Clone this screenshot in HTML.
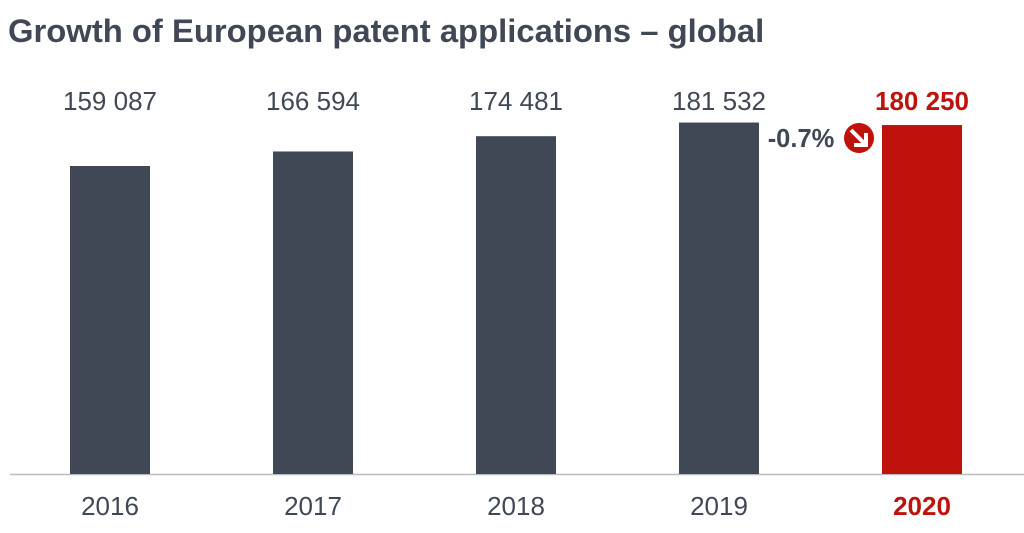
<!DOCTYPE html>
<html><head><meta charset="utf-8"><style>
body{margin:0;background:#fff;width:1024px;height:528px;overflow:hidden;font-family:"Liberation Sans",Arial,sans-serif}
</style></head><body>
<svg width="1024" height="528">
<text x="8" y="42" font-size="32.8" font-weight="bold" fill="#404855">Growth of European patent applications – global</text>
<line x1="10" y1="474.5" x2="1024" y2="474.5" stroke="#b8bcc2" stroke-width="1.5"/>
<g id="bars"></g>
<text x="801" y="147" font-size="25.5" font-weight="bold" fill="#404855" text-anchor="middle">-0.7%</text>
<g>
<circle cx="859" cy="138" r="15" fill="#c0120d"/>
<path d="M851 130 L864 143 M866 133 L866 145 L854 145" stroke="#fff" stroke-width="4" fill="none" stroke-linejoin="miter"/>
</g>
</svg>
<script>
const years=["2016","2017","2018","2019","2020"];
const values=[159087,166594,174481,181532,180250];
const valueLabels=["159 087","166 594","174 481","181 532","180 250"];
const base=474, scale=308/159087;
const g=document.getElementById('bars');
const NS="http://www.w3.org/2000/svg";
years.forEach((y,i)=>{
  const cx=110+i*203, h=values[i]*scale, last=i===years.length-1;
  const col=last?"#c0120d":"#404855";
  const r=document.createElementNS(NS,'rect');
  r.setAttribute('x',cx-40);r.setAttribute('width',80);
  r.setAttribute('y',base-h);r.setAttribute('height',h);r.setAttribute('fill',col);
  
  
  g.appendChild(r);
  const t=document.createElementNS(NS,'text');
  t.setAttribute('x',cx);t.setAttribute('y',110);t.setAttribute('text-anchor','middle');
  t.setAttribute('font-size',26);t.setAttribute('fill',last?"#c0120d":"#404855");
  if(last)t.setAttribute('font-weight','bold');
  t.textContent=valueLabels[i];
  
  
  g.appendChild(t);
  const l=document.createElementNS(NS,'text');
  l.setAttribute('x',cx);l.setAttribute('y',515);l.setAttribute('text-anchor','middle');
  l.setAttribute('font-size',26);l.setAttribute('fill',last?"#c0120d":"#404855");
  if(last)l.setAttribute('font-weight','bold');
  l.textContent=y;
  
  
  g.appendChild(l);
});
</script>
</body></html>
